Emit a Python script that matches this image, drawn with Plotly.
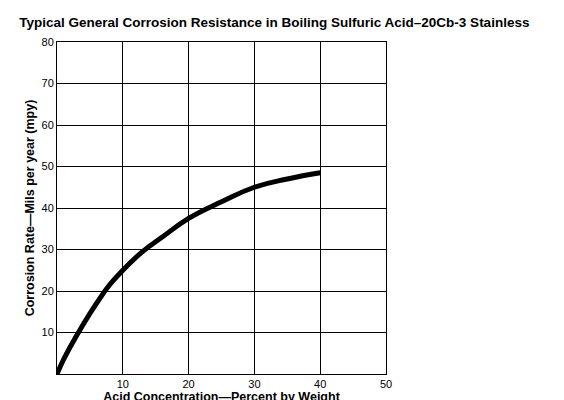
import plotly.graph_objects as go

# acid concentration (% by weight) vs corrosion rate (mpy)
acid_pct = [0, 1, 2, 4, 6, 8, 10, 13, 16, 20, 25, 30, 35, 40]
rate_mpy = [0, 3.5, 6.5, 12, 17, 21.5, 25, 29.5, 33, 37.5, 41.5, 45, 47, 48.5]

x_ticks = [10, 20, 30, 40, 50]
y_ticks = [10, 20, 30, 40, 50, 60, 70, 80]

fig = go.Figure(go.Scatter(
    x=acid_pct, y=rate_mpy, mode="lines",
    line=dict(color="black", width=5, shape="spline", smoothing=1.3),
))

axis_common = dict(
    showgrid=True, gridcolor="black", gridwidth=1,
    showline=True, linecolor="black", linewidth=1, mirror=True,
    zeroline=False, ticks="", tickfont=dict(size=11, color="black"),
    automargin=False,
)

fig.update_layout(
    width=564, height=400,
    margin=dict(l=49, r=186, t=34, b=34),
    paper_bgcolor="white", plot_bgcolor="white",
    font=dict(family="Liberation Sans, Arial", color="black"),
    showlegend=False,
    title=dict(
        text="<b>Typical General Corrosion Resistance in Boiling Sulfuric Acid\u201320Cb-3 Stainless</b>",
        x=0.02, xanchor="left", y=0.975, yanchor="top", font=dict(size=13.5),
    ),
    xaxis=dict(axis_common, range=[0, 50], tickvals=x_ticks,
               title=dict(text="<b>Acid Concentration\u2014Percent by Weight</b>",
                          font=dict(size=12.5), standoff=2)),
    yaxis=dict(axis_common, range=[0, 80], tickvals=y_ticks,
               title=dict(text="<b>Corrosion Rate\u2014Mils per year (mpy)</b>",
                          font=dict(size=12.5), standoff=4)),
)

fig.write_html("out.html")
